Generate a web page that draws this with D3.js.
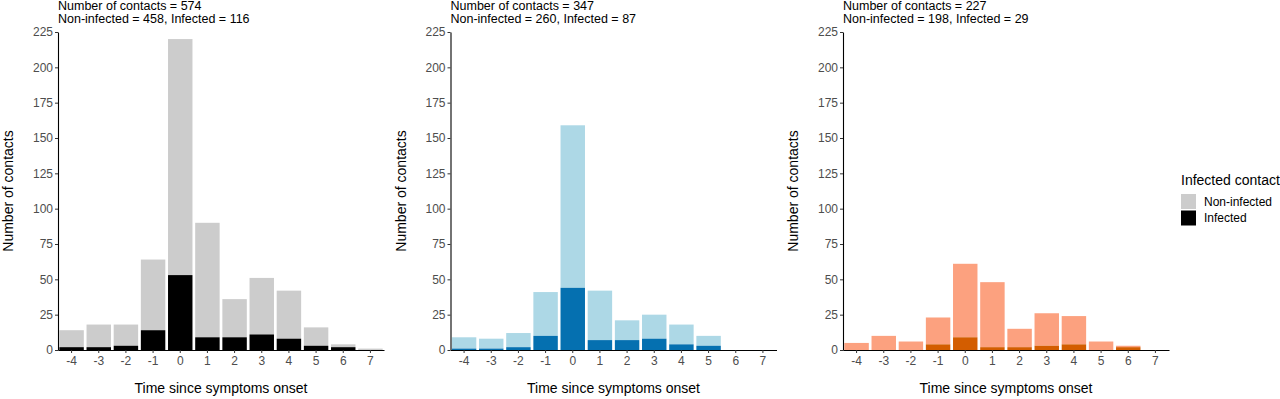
<!DOCTYPE html>
<html>
<head>
<meta charset="utf-8">
<script src="https://cdn.jsdelivr.net/npm/d3@7"></script>
<style>
  body { margin: 0; background: #fff; }
  svg { display: block; font-family: "Liberation Sans", Arial, sans-serif; }
</style>
</head>
<body>
<svg id="chart" width="1280" height="399"></svg>
<script>
// ---- data ----
const days = ["-4", "-3", "-2", "-1", "0", "1", "2", "3", "4", "5", "6", "7"];
const yTicks = [0, 25, 50, 75, 100, 125, 150, 175, 200, 225];

const panel1NonInfected = [12, 16, 15, 50, 167, 81, 27, 40, 34, 13, 2, 1];
const panel1Infected    = [2, 2, 3, 14, 53, 9, 9, 11, 8, 3, 2, 0];

const panel2NonInfected = [8, 7, 10, 31, 115, 35, 14, 17, 14, 7, 0, 0];
const panel2Infected    = [1, 1, 2, 10, 44, 7, 7, 8, 4, 3, 0, 0];

const panel3NonInfected = [5, 10, 6, 19, 52, 46, 13, 23, 20, 6, 1, 0];
const panel3Infected    = [0, 0, 0, 4, 9, 2, 2, 3, 4, 0, 2, 0];

const headers = [
  ["Number of contacts = 574", "Non-infected = 458, Infected = 116"],
  ["Number of contacts = 347", "Non-infected = 260, Infected = 87"],
  ["Number of contacts = 227", "Non-infected = 198, Infected = 29"]
];
const legendTitle = "Infected contact";
const legendLabels = ["Non-infected", "Infected"];
const xTitle = "Time since symptoms onset";
const yTitle = "Number of contacts";

// ---- layout / styles ----
const panels = [
  { non: panel1NonInfected, inf: panel1Infected, x0: 58,  colors: ["#cccccc", "#000000"] },
  { non: panel2NonInfected, inf: panel2Infected, x0: 450.5, colors: ["#add8e6", "#0570b0"] },
  { non: panel3NonInfected, inf: panel3Infected, x0: 843, colors: ["#fca17f", "#d35d00"] }
];
const W = 326, yTop = 32, yBot = 350;

const svg = d3.select("#chart");
const y = d3.scaleLinear().domain([0, 225]).range([yBot, yTop]);

panels.forEach((p, pi) => {
  const g = svg.append("g").attr("transform", `translate(${p.x0},0)`);
  const x = d3.scaleBand().domain(days).range([0, W]).paddingInner(0.1).paddingOuter(0.05);

  const rows = days.map((d, i) => ({ day: d, infected: p.inf[i], nonInfected: p.non[i] }));
  const stack = d3.stack().keys(["infected", "nonInfected"])(rows);

  // non-infected first (drawn behind), then infected
  [1, 0].forEach(k => {
    g.append("g").selectAll("rect").data(stack[k]).join("rect")
      .attr("x", d => x(d.data.day))
      .attr("width", x.bandwidth())
      .attr("y", d => y(d[1]))
      .attr("height", d => y(d[0]) - y(d[1]))
      .attr("fill", p.colors[k === 0 ? 1 : 0]);
  });

  // axes
  const xa = g.append("g").attr("transform", `translate(0,${yBot})`)
    .call(d3.axisBottom(x).tickSize(3).tickSizeOuter(0));
  const ya = g.append("g")
    .call(d3.axisLeft(y).tickValues(yTicks).tickSize(3).tickSizeOuter(0));
  [xa, ya].forEach(a => {
    a.select(".domain").attr("stroke", "#000").attr("stroke-width", 1.1);
    a.selectAll(".tick line").attr("stroke", "#333");
    a.selectAll(".tick text").attr("fill", "#4d4d4d")
      .style("font-size", "12px").style("font-family", "Liberation Sans, Arial, sans-serif");
  });
  xa.selectAll(".tick text").attr("dy", "0.71em").attr("y", 6);
  ya.selectAll(".tick text").attr("x", -5);

  // axis titles
  g.append("text")
    .attr("x", W / 2).attr("y", 393)
    .attr("text-anchor", "middle")
    .style("font-size", "14px").attr("fill", "#000")
    .text(xTitle);
  g.append("text")
    .attr("transform", `translate(-45,${(yTop + yBot) / 2}) rotate(-90)`)
    .attr("text-anchor", "middle")
    .style("font-size", "14px").attr("fill", "#000")
    .text(yTitle);

  // headers
  headers[pi].forEach((t, li) => {
    g.append("text")
      .attr("x", 0).attr("y", 10 + li * 13)
      .style("font-size", "12.5px").attr("fill", "#000")
      .text(t);
  });
});

// legend
const lg = svg.append("g").attr("transform", "translate(1181,0)");
lg.append("text").attr("x", 0).attr("y", 185)
  .style("font-size", "14px").attr("fill", "#000").text(legendTitle);
const legendColors = ["#cccccc", "#000000"];
legendLabels.forEach((lab, i) => {
  lg.append("rect").attr("x", 0).attr("y", 194 + i * 16.5)
    .attr("width", 15).attr("height", 15).attr("fill", legendColors[i]);
  lg.append("text").attr("x", 23).attr("y", 194 + i * 16.5 + 7.5)
    .attr("dy", "0.35em")
    .style("font-size", "12px").attr("fill", "#000").text(lab);
});
</script>
</body>
</html>
